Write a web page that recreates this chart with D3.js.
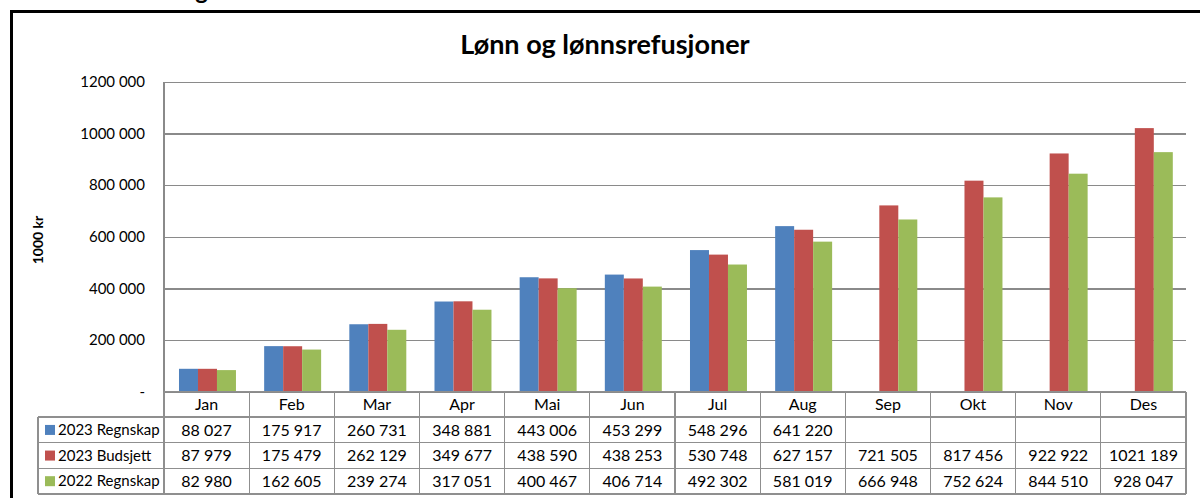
<!DOCTYPE html>
<meta charset='utf-8'>
<style>
    body {
        margin: 0;
        background: #fff;
        font-family: Lato, 'Open Sans', sans-serif;
    }

    .grid line {
        stroke: #8a8a8a;
        stroke-width: 1.4;
        shape-rendering: crispEdges;
    }

    .grid path {
        display: none;
    }

    .table line {
        stroke: #8f8f8f;
        stroke-width: 1.3;
        shape-rendering: crispEdges;
    }
</style>
<body>
    <script src='https://d3js.org/d3.v7.min.js'></script>
    <script>
        // Data
        const months = [ 'Jan', 'Feb', 'Mar', 'Apr', 'Mai', 'Jun', 'Jul', 'Aug', 'Sep', 'Okt', 'Nov', 'Des' ];
        const seriesNames = [ '2023 Regnskap', '2023 Budsjett', '2022 Regnskap' ];
        const regnskap2023 = [ 88027, 175917, 260731, 348881, 443006, 453299, 548296, 641220, null, null, null, null ];
        const budsjett2023 = [ 87979, 175479, 262129, 349677, 438590, 438253, 530748, 627157, 721505, 817456, 922922, 1021189 ];
        const regnskap2022 = [ 82980, 162605, 239274, 317051, 400467, 406714, 492302, 581019, 666948, 752624, 844510, 928047 ];
        const yTicks = [ 0, 200000, 400000, 600000, 800000, 1000000, 1200000 ];

        const seriesValues = [ regnskap2023, budsjett2023, regnskap2022 ];
        const colors = [ '#4f81bd', '#c0504d', '#9bbb59' ];

        // number format like "1200 000" / "88 027", zero as "-"
        const fmt = v => {
            if ( v === 0 ) return '-';
            if ( v < 1000 ) return String( v );
            return Math.floor( v / 1000 ) + ' ' + String( v % 1000 ).padStart( 3, '0' );
        };

        const plot = { left: 164, right: 1186, top: 82, bottom: 391.5 },
            tableBottom = 494,
            legendLeft = 38;

        const svg = d3.select( 'body' ).append( 'svg' )
            .attr( 'width', 1200 )
            .attr( 'height', 498 );

        // outer frame
        svg.append( 'rect' )
            .attr( 'x', 11.5 )
            .attr( 'y', 11.5 )
            .attr( 'width', 1250 )
            .attr( 'height', 560 )
            .attr( 'fill', '#fff' )
            .attr( 'stroke', '#000' )
            .attr( 'stroke-width', 3 );

        // heading above the frame, only its descender shows
        svg.append( 'text' )
            .attr( 'x', 208 )
            .attr( 'y', -1.5 )
            .attr( 'text-anchor', 'end' )
            .attr( 'font-weight', 'bold' )
            .attr( 'font-size', 24 )
            .text( 'Lønnsutvikling' );

        // Scales
        const x = d3.scaleBand()
            .domain( months )
            .range( [ plot.left, plot.right ] );

        const xInner = d3.scaleBand()
            .domain( d3.range( seriesNames.length ) )
            .range( [ x.bandwidth() * 0.176, x.bandwidth() * 0.845 ] );

        const y = d3.scaleLinear()
            .domain( [ 0, 1200000 ] )
            .range( [ plot.bottom, plot.top ] );

        const rows = d3.scaleBand()
            .domain( [ 'header' ].concat( seriesNames ) )
            .range( [ plot.bottom, tableBottom ] );

        // Title
        svg.append( 'text' )
            .attr( 'x', 605 )
            .attr( 'y', 54 )
            .attr( 'text-anchor', 'middle' )
            .attr( 'font-weight', 'bold' )
            .attr( 'font-size', 27 )
            .text( 'Lønn og lønnsrefusjoner' );

        // Y axis grid + labels
        const yAxis = d3.axisLeft( y )
            .tickValues( yTicks )
            .tickSize( -( plot.right - plot.left ) )
            .tickPadding( 19 )
            .tickFormat( fmt );

        const gy = svg.append( 'g' )
            .attr( 'class', 'grid' )
            .attr( 'transform', `translate( ${plot.left}, 0 )` )
            .call( yAxis );

        gy.selectAll( 'text' )
            .attr( 'font-family', 'Lato, sans-serif' )
            .attr( 'font-size', 15 )
            .attr( 'fill', '#000' );

        svg.append( 'line' )
            .attr( 'x1', plot.left )
            .attr( 'x2', plot.left )
            .attr( 'y1', plot.top )
            .attr( 'y2', plot.bottom )
            .attr( 'stroke', '#8a8a8a' )
            .attr( 'stroke-width', 1.4 )
            .attr( 'shape-rendering', 'crispEdges' );

        svg.append( 'text' )
            .attr( 'transform', 'translate( 43, 240 ) rotate(-90)' )
            .attr( 'text-anchor', 'middle' )
            .attr( 'font-weight', 'bold' )
            .attr( 'font-size', 14 )
            .text( '1000 kr' );

        // Bars
        const groups = svg.selectAll( '.month' )
            .data( months )
            .enter().append( 'g' )
                .attr( 'class', 'month' )
                .attr( 'transform', d => `translate( ${x( d )}, 0 )` );

        groups.selectAll( 'rect' )
            .data( ( d, i ) => seriesValues.map( ( s, si ) => ( { si: si, value: s[ i ] } ) ).filter( b => b.value != null ) )
            .enter().append( 'rect' )
                .attr( 'x', d => xInner( d.si ) )
                .attr( 'width', xInner.bandwidth() )
                .attr( 'y', d => y( d.value ) )
                .attr( 'height', d => y( 0 ) - y( d.value ) )
                .attr( 'fill', d => colors[ d.si ] );

        // Data table
        const table = svg.append( 'g' ).attr( 'class', 'table' );

        // horizontal lines
        table.append( 'line' )
            .attr( 'x1', plot.left ).attr( 'x2', plot.right )
            .attr( 'y1', plot.bottom ).attr( 'y2', plot.bottom );

        seriesNames.forEach( s => {
            table.append( 'line' )
                .attr( 'x1', legendLeft ).attr( 'x2', plot.right )
                .attr( 'y1', rows( s ) ).attr( 'y2', rows( s ) );
        } );
        table.append( 'line' )
            .attr( 'x1', legendLeft ).attr( 'x2', plot.right )
            .attr( 'y1', tableBottom ).attr( 'y2', tableBottom );

        // vertical lines
        months.forEach( m => {
            table.append( 'line' )
                .attr( 'x1', x( m ) ).attr( 'x2', x( m ) )
                .attr( 'y1', plot.bottom ).attr( 'y2', tableBottom );
        } );
        table.append( 'line' )
            .attr( 'x1', plot.right ).attr( 'x2', plot.right )
            .attr( 'y1', plot.bottom ).attr( 'y2', tableBottom );
        table.append( 'line' )
            .attr( 'x1', legendLeft ).attr( 'x2', legendLeft )
            .attr( 'y1', rows( seriesNames[ 0 ] ) ).attr( 'y2', tableBottom );

        // header labels
        table.selectAll( '.head' )
            .data( months )
            .enter().append( 'text' )
                .attr( 'class', 'head' )
                .attr( 'x', d => x( d ) + x.bandwidth() / 2 )
                .attr( 'y', rows( 'header' ) + rows.bandwidth() / 2 )
                .attr( 'dy', '.35em' )
                .attr( 'text-anchor', 'middle' )
                .attr( 'font-size', 16 )
                .text( d => d );

        // legend cells
        const legend = table.selectAll( '.legend' )
            .data( seriesNames )
            .enter().append( 'g' )
                .attr( 'class', 'legend' )
                .attr( 'transform', d => `translate( ${legendLeft}, ${rows( d ) + rows.bandwidth() / 2} )` );

        legend.append( 'rect' )
            .attr( 'x', 7 )
            .attr( 'y', -5 )
            .attr( 'width', 10 )
            .attr( 'height', 10 )
            .attr( 'fill', ( d, i ) => colors[ i ] );

        legend.append( 'text' )
            .attr( 'x', 20 )
            .attr( 'dy', '.35em' )
            .attr( 'font-size', 15 )
            .text( d => d );

        // values
        seriesNames.forEach( ( s, si ) => {
            table.selectAll( '.v' + si )
                .data( seriesValues[ si ].map( ( v, i ) => ( { m: months[ i ], v: v } ) ).filter( d => d.v != null ) )
                .enter().append( 'text' )
                    .attr( 'class', 'v' + si )
                    .attr( 'x', d => x( d.m ) + x.bandwidth() / 2 )
                    .attr( 'y', rows( s ) + rows.bandwidth() / 2 )
                    .attr( 'dy', '.35em' )
                    .attr( 'text-anchor', 'middle' )
                    .attr( 'font-size', 16 )
                    .text( d => fmt( d.v ) );
        } );
    </script>
</body>
